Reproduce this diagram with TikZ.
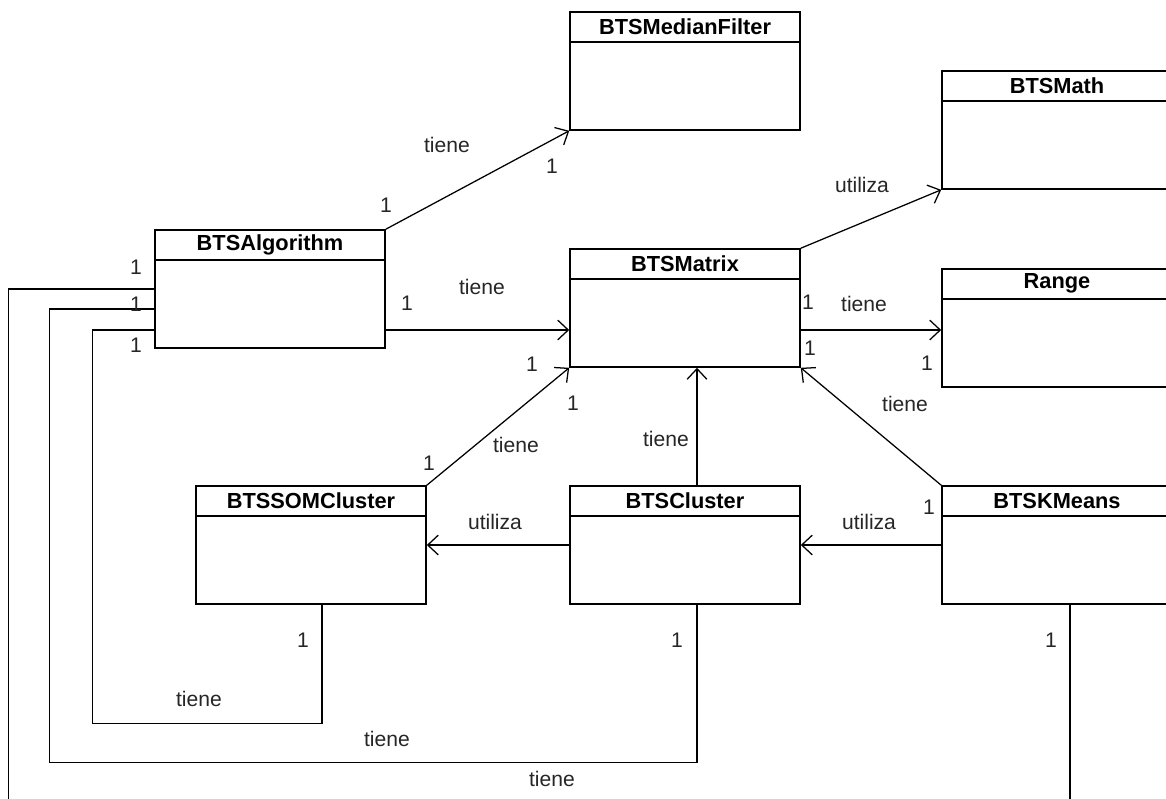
\documentclass[tikz,border=0pt]{standalone}
\usepackage{fontspec}
\setmainfont{Liberation Sans}
\usetikzlibrary{arrows.meta, calc}
\tikzset{
  umlclass/.style={
    rectangle, draw, line width=1.1pt,
    minimum width=5.75cm, minimum height=2.95cm, inner sep=0pt,
    path picture={
      \draw[line width=1.1pt]
        ([yshift=-0.75cm]path picture bounding box.north west) --
        ([yshift=-0.75cm]path picture bounding box.north east);
    },
    label={[classname]north:#1}
  },
  classname/.style={
    anchor=north, inner sep=0pt, minimum height=0.75cm,
    font=\fontsize{15.5}{18}\selectfont\bfseries
  },
  assoc/.style={
    -{Straight Barb[length=7.5pt, width=14pt]}, line width=0.9pt
  },
  link/.style={
    line width=0.9pt
  },
  rolelabel/.style={
    font=\fontsize{15}{18}\selectfont, inner sep=1pt, text=black!85
  }
}
\begin{document}
\begin{tikzpicture}[x=0.025cm, y=-0.025cm]

  \useasboundingbox (0,0) rectangle (1166,798);
  \clip (0,0) rectangle (1166,798);

  % ── Classes ────────────────────────────────────────────
  \node[umlclass=BTSMedianFilter] (medfilt) at (685,71)   {};
  \node[umlclass=BTSMath]         (math)    at (1057,130) {};
  \node[umlclass=BTSAlgorithm]    (algo)    at (270,289)  {};
  \node[umlclass=BTSMatrix]       (matrix)  at (685,308)  {};
  \node[umlclass=Range]           (range)   at (1057,328) {};
  \node[umlclass=BTSSOMCluster]   (som)     at (311,545)  {};
  \node[umlclass=BTSCluster]      (cluster) at (685,545)  {};
  \node[umlclass=BTSKMeans]       (kmeans)  at (1057,545) {};

  % ── Helper points on the borders ──────────────────────
  \coordinate (amY) at ($(algo.east)+(0,41)$);
  \coordinate (clX) at ($(cluster.north)+(12,0)$);
  \coordinate (soX) at ($(som.south)+(11,0)$);
  \coordinate (clB) at ($(cluster.south)+(12,0)$);
  \coordinate (kmB) at ($(kmeans.south)+(13,0)$);
  \coordinate (inA) at ($(algo.west)+(0,41)$);
  \coordinate (inB) at ($(algo.west)+(0,20)$);

  % ── Arrows: associations ──────────────────────────────
  \draw[assoc] (algo.north east)   -- (medfilt.south west);
  \draw[assoc] (amY)               -- (amY -| matrix.west);
  \draw[assoc] (matrix.north east) -- (math.south west);
  \draw[assoc] (amY -| matrix.east) -- (amY -| range.west);
  \draw[assoc] (som.north east)    -- (matrix.south west);
  \draw[assoc] (clX)               -- (clX |- matrix.south);
  \draw[assoc] (kmeans.north west) -- (matrix.south east);
  \draw[assoc] (cluster.west)      -- (som.east);
  \draw[assoc] (kmeans.west)       -- (cluster.east);

  % ── Lines back to BTSAlgorithm ────────────────────────
  \draw[link] (soX) -- ++(0,119) -| ($(inA)+(-62,0)$) -- (inA);
  \draw[link] (clB) -- ++(0,158) -| ($(inB)+(-105,0)$) -- (inB);
  \draw[link] (kmB) -- ++(0,220) -| ($(algo.west)+(-146,0)$) -- (algo.west);

  % ── Labels: top part ──────────────────────────────────
  \node[rolelabel] (tAM)  at (447,145) {tiene};
  \node[rolelabel] (mAM1) at (386,205) {1};
  \node[rolelabel] (mAM2) at (552,166) {1};
  \node[rolelabel] (uMM)  at (862,185) {utiliza};
  \node[rolelabel] (tAX)  at (482,287) {tiene};
  \node[rolelabel] (mAX)  at (407,303) {1};
  \node[rolelabel] (mXR1) at (808,302) {1};
  \node[rolelabel] (tXR)  at (864,304) {tiene};
  \node[rolelabel] (mXR2) at (810,348) {1};
  \node[rolelabel] (mXR3) at (927,363) {1};

  % ── Labels: middle part ───────────────────────────────
  \node[rolelabel] (mSX1) at (532,364) {1};
  \node[rolelabel] (mSX2) at (573,403) {1};
  \node[rolelabel] (tKX)  at (905,404) {tiene};
  \node[rolelabel] (tCX)  at (666,439) {tiene};
  \node[rolelabel] (tSX)  at (516,445) {tiene};
  \node[rolelabel] (mSX3) at (429,463) {1};
  \node[rolelabel] (mKX)  at (929,507) {1};
  \node[rolelabel] (uCS)  at (495,522) {utiliza};
  \node[rolelabel] (uKC)  at (869,522) {utiliza};

  % ── Labels: lines back to BTSAlgorithm ────────────────
  \node[rolelabel] (mIn1) at (136,267) {1};
  \node[rolelabel] (mIn2) at (136,304) {1};
  \node[rolelabel] (mIn3) at (136,345) {1};
  \node[rolelabel] (mOut1) at (303,640) {1};
  \node[rolelabel] (mOut2) at (677,640) {1};
  \node[rolelabel] (mOut3) at (1051,640) {1};
  \node[rolelabel] (tSA)  at (199,699) {tiene};
  \node[rolelabel] (tCA)  at (387,739) {tiene};
  \node[rolelabel] (tKA)  at (552,779) {tiene};

\end{tikzpicture}
\end{document}
